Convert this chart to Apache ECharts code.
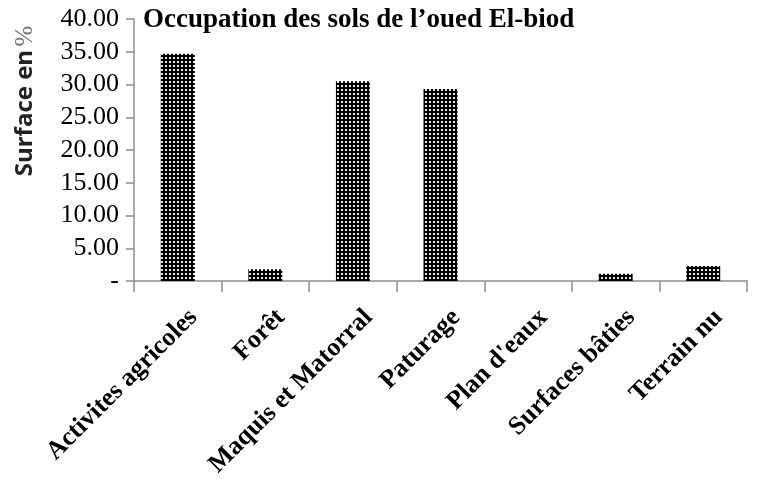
<!DOCTYPE html>
<html><head><meta charset="utf-8">
<script src="https://cdn.jsdelivr.net/npm/echarts@6/dist/echarts.min.js"></script>
<style>html,body{margin:0;padding:0;background:#fff}#c{width:758px;height:484px}</style>
</head><body><div id="c"></div>
<script>
const categories = ['Activites agricoles', 'Forêt', 'Maquis et Matorral', 'Paturage', "Plan d'eaux", 'Surfaces bâties', 'Terrain nu'];
const surfaceValues = [34.7, 1.8, 30.5, 29.3, 0, 1.1, 2.3];
const yTicks = { min: 0, max: 40, interval: 5 };

const tile = document.createElement('canvas');
tile.width = 4; tile.height = 4;
const tc = tile.getContext('2d');
tc.fillStyle = '#000'; tc.fillRect(0, 0, 4, 4);
tc.fillStyle = '#e8e8e8'; tc.fillRect(1, 1, 2, 2);

const chart = echarts.init(document.getElementById('c'), null, { renderer: 'canvas' });
chart.setOption({
  animation: false,
  backgroundColor: '#fff',
  title: {
    text: 'Occupation des sols de l’oued El-biod',
    left: 138, top: 2,
    textStyle: { fontFamily: 'Liberation Serif', fontWeight: 'bold', fontSize: 27, color: '#000' }
  },
  graphic: [{
    type: 'text',
    x: 25, y: 101,
    rotation: Math.PI / 2,
    style: {
      text: '{a|Surface en} {b|%}',
      align: 'center', verticalAlign: 'middle',
      rich: {
        a: { fontFamily: 'Open Sans', fontWeight: 'bold', fontSize: 24, fill: '#222' },
        b: { fontFamily: 'Liberation Serif', fontSize: 25, fill: '#777' }
      }
    }
  }],
  grid: { left: 134, right: 11, top: 19, bottom: 203, outerBoundsMode: 'none' },
  xAxis: {
    type: 'category',
    data: categories,
    axisLine: { lineStyle: { color: '#8c8c8c', width: 1.5 } },
    axisTick: { show: true, length: 11, lineStyle: { color: '#8c8c8c', width: 1.5 } },
    axisLabel: {
      rotate: 45, interval: 0, margin: 17,
      verticalAlign: 'top', padding: [9, 0, 0, 0],
      fontFamily: 'Liberation Serif', fontWeight: 'bold', fontSize: 26, color: '#000'
    }
  },
  yAxis: {
    type: 'value',
    min: yTicks.min, max: yTicks.max, interval: yTicks.interval,
    axisLine: { show: true, lineStyle: { color: '#8c8c8c', width: 1.5 } },
    axisTick: { show: true, length: 8, lineStyle: { color: '#8c8c8c', width: 1.5 } },
    splitLine: { show: false },
    axisLabel: {
      margin: 15,
      fontFamily: 'Liberation Serif', fontSize: 26, color: '#000',
      formatter: v => v === 0 ? '-' : v.toFixed(2)
    }
  },
  series: [{
    type: 'bar',
    data: surfaceValues,
    barWidth: 34,
    itemStyle: { color: { image: tile, repeat: 'repeat' } }
  }]
});
</script></body></html>
